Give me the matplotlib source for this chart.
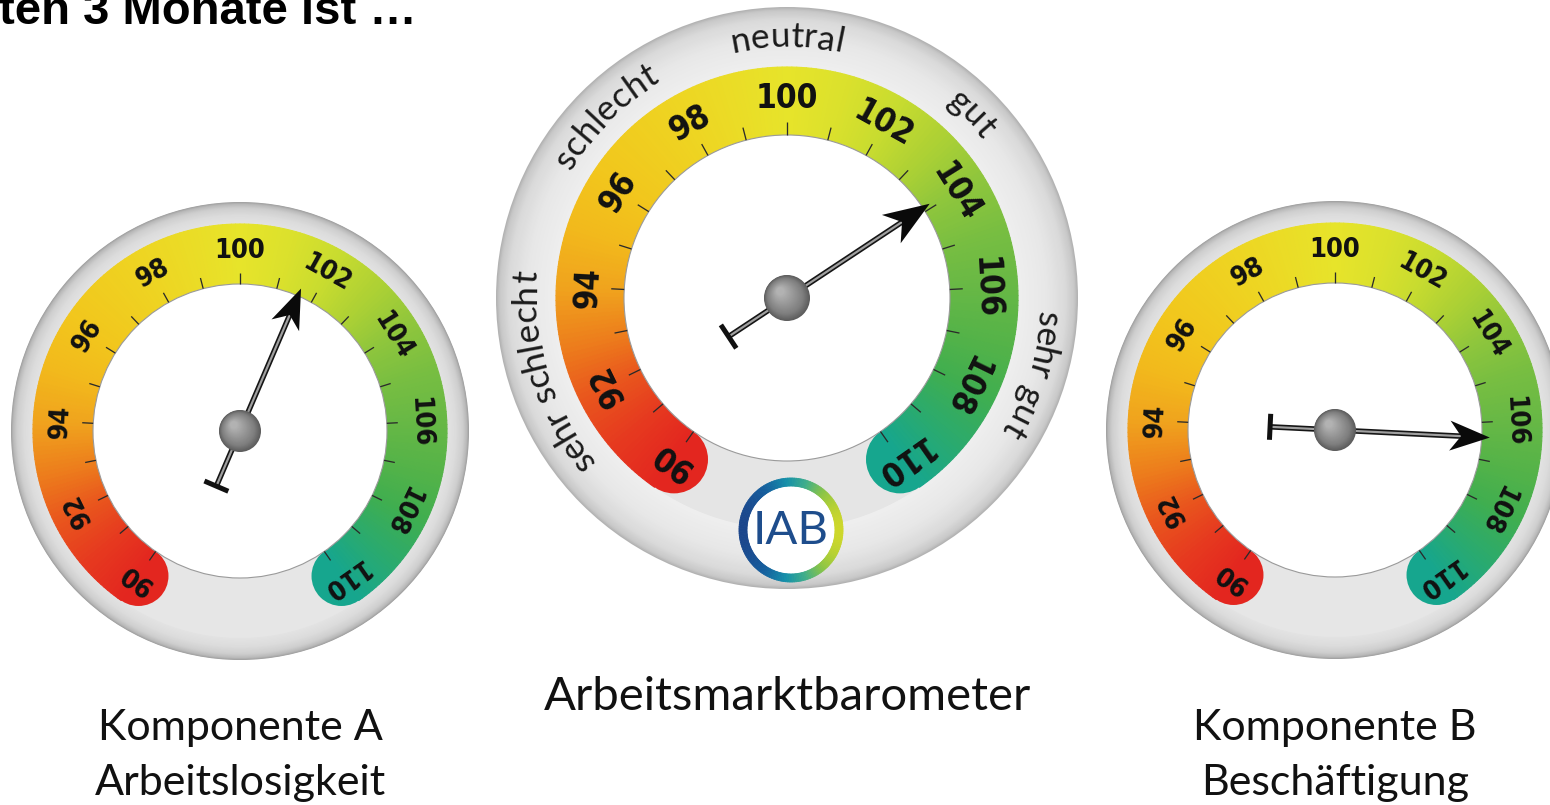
import numpy as np
import matplotlib
matplotlib.use("Agg")
import matplotlib.pyplot as plt
from matplotlib.patches import Circle, Polygon
from matplotlib.collections import PolyCollection
from matplotlib.colors import to_rgb
from matplotlib.textpath import TextToPath
from matplotlib.font_manager import FontProperties

# ---------------- data ----------------
title_text = "ten 3 Monate ist …"
gauge_names = ["Komponente A\nArbeitslosigkeit", "Arbeitsmarktbarometer", "Komponente B\nBeschäftigung"]
gauge_values = [101.6, 103.9, 106.4]
scale_min, scale_max = 90, 110
tick_values = list(range(90, 111))
label_values = list(range(90, 111, 2))
category_labels = ["sehr schlecht", "schlecht", "neutral", "gut", "sehr gut"]
category_values = [92.6, 96.9, 100.0, 103.1, 107.4]
logo_text = "IAB"

# ---------------- style / layout ----------------
W, H = 1550, 805
PX = 72 / 100.0          # points per pixel
DEG_PER_UNIT = 14.5

band_stops = [(90, '#e3261f'), (91, '#e6391f'), (92, '#e9561d'), (93, '#ed801c'), (94, '#f0a31d'),
              (95, '#f2b81c'), (96, '#f2c51c'), (98, '#eed522'), (100, '#e7e42a'), (101, '#dce12c'),
              (102, '#c9dc2f'), (103, '#aed134'), (104, '#8fc63c'), (105, '#78be41'), (106, '#67b845'),
              (107, '#55b348'), (108, '#40ae4f'), (109, '#2baa6d'), (110, '#16a68e')]

layout = [
    dict(cx=240, cy=374, Rg=229, Ro=207, Ri=147, tick=11, lr=180, lfs=19.5, hub=21, tail=60, hl=40, hw=15, tb=13,
         ring=[(0, '#a0a0a0'), (2, '#b9b9b9'), (6, '#cfcfcf'), (13, '#dcdcdc'), (22, '#e3e3e3')], gap='#e6e6e6'),
    dict(cx=787, cy=507, Rg=291, Ro=231, Ri=163, tick=13, lr=199, lfs=24, hub=23, tail=70, hl=46, hw=17, tb=14,
         ring=[(0, '#b3b3b3'), (3, '#c8c8c8'), (12, '#dadada'), (30, '#e7e7e7'), (60, '#efefef')], gap='#e5e5e5'),
    dict(cx=1335, cy=375, Rg=229, Ro=207, Ri=147, tick=11, lr=180, lfs=19.5, hub=21, tail=65, hl=40, hw=15, tb=13,
         ring=[(0, '#a0a0a0'), (2, '#b9b9b9'), (6, '#cfcfcf'), (13, '#dcdcdc'), (22, '#e3e3e3')], gap='#e6e6e6'),
]
name_baselines = [[65, 10], [95], [65, 10]]

logo_xy = (791, 275)
logo_R, logo_w = 52, 8
logo_stops = [(-1.0, '#1b468c'), (-0.55, '#155f9e'), (-0.1, '#1590aa'), (0.3, '#3fae8a'),
              (0.65, '#8cc545'), (1.0, '#cdd72a')]


def interp_color(stops, x):
    xs = [s[0] for s in stops]
    cs = np.array([to_rgb(s[1]) for s in stops])
    return tuple(float(np.interp(x, xs, cs[:, k])) for k in range(3))


def val2ang(v):
    return np.deg2rad(90 - (v - 100) * DEG_PER_UNIT)


fig = plt.figure(figsize=(W / 100, H / 100), dpi=100)
ax = fig.add_axes([0, 0, 1, 1])
ax.set_xlim(0, W)
ax.set_ylim(0, H)
ax.axis('off')

ttp = TextToPath()


def text_w(s, fp):
    w, h, d = ttp.get_text_width_height_descent(s, fp, ismath=False)
    return w / PX


def curved_text(cx, cy, R, theta_c, s, fp, color='#1a1a1a', z=6):
    ref = text_w('x', fp)
    total = text_w(s + 'x', fp) - ref
    lefts = [0.0] + [text_w(s[:i] + 'x', fp) - ref for i in range(1, len(s) + 1)]
    for i, ch in enumerate(s):
        if ch == ' ':
            continue
        mid = 0.5 * (lefts[i] + lefts[i + 1])
        th = theta_c + (total / 2 - mid) / R
        ax.text(cx + R * np.cos(th), cy + R * np.sin(th), ch, fontproperties=fp, color=color,
                rotation=np.rad2deg(th) - 90, rotation_mode='anchor', ha='center', va='baseline', zorder=z)


num_fp_base = dict(family='DejaVu Sans', weight='bold', stretch='condensed')


def draw_gauge(g, value, name_lines, baselines, middle=False):
    cx, cy = g['cx'], g['cy']
    Rg, Ro, Ri = g['Rg'], g['Ro'], g['Ri']
    # gray ring gradient
    n = 50
    for i in range(n):
        r = Rg - (Rg - Ro) * i / n
        ax.add_patch(Circle((cx, cy), r, fc=interp_color(g['ring'], Rg - r), ec='none', zorder=1))
    ax.add_patch(Circle((cx, cy), Ro, fc=g['gap'], ec='none', zorder=1.5))
    # coloured band
    vs = np.linspace(scale_min, scale_max, 241)
    polys, cols = [], []
    for a, b in zip(vs[:-1], vs[1:]):
        ts = np.linspace(val2ang(a), val2ang(b), 3)
        outer = np.c_[cx + Ro * np.cos(ts), cy + Ro * np.sin(ts)]
        inner = np.c_[cx + Ri * np.cos(ts[::-1]), cy + Ri * np.sin(ts[::-1])]
        polys.append(np.vstack([outer, inner]))
        cols.append(interp_color(band_stops, 0.5 * (a + b)))
    ax.add_collection(PolyCollection(polys, facecolors=cols, edgecolors=cols, linewidths=0.8, zorder=3))
    rm, hwid = 0.5 * (Ro + Ri), 0.5 * (Ro - Ri)
    for v in (scale_min, scale_max):
        t = val2ang(v)
        ax.add_patch(Circle((cx + rm * np.cos(t), cy + rm * np.sin(t)), hwid,
                            fc=interp_color(band_stops, v), ec='none', zorder=2.9))
    # white dial
    ax.add_patch(Circle((cx, cy), Ri, fc='white', ec='#9a9a9a', lw=0.8, zorder=4))
    # ticks
    for v in tick_values:
        t = val2ang(v)
        ax.plot([cx + Ri * np.cos(t), cx + (Ri + g['tick']) * np.cos(t)],
                [cy + Ri * np.sin(t), cy + (Ri + g['tick']) * np.sin(t)],
                color='#2a2a2a', lw=1.3 * PX, zorder=5, solid_capstyle='butt')
    # labels
    fpl = FontProperties(size=g['lfs'], **num_fp_base)
    for v in label_values:
        t = val2ang(v)
        ax.text(cx + g['lr'] * np.cos(t), cy + g['lr'] * np.sin(t), str(v),
                rotation=np.rad2deg(t) - 90, rotation_mode='anchor', ha='center', va='center',
                fontproperties=fpl, color='#111111', zorder=6)
    # pointer
    th = val2ang(value)
    u = np.array([np.cos(th), np.sin(th)])
    nv = np.array([-np.sin(th), np.cos(th)])
    c = np.array([cx, cy], dtype=float)
    tip = c + u * (Ri + 8)
    back = tip - u * g['hl']
    notch = tip - u * g['hl'] * 0.72
    tail = c - u * g['tail']
    ax.plot([tail[0], notch[0]], [tail[1], notch[1]], color='#151515', lw=5.5 * PX,
            solid_capstyle='butt', zorder=7)
    ax.plot([tail[0], notch[0]], [tail[1], notch[1]], color='#a0a0a0', lw=2.2 * PX,
            solid_capstyle='butt', zorder=7.1)
    tb = [tail + nv * g['tb'], tail - nv * g['tb']]
    ax.plot([tb[0][0], tb[1][0]], [tb[0][1], tb[1][1]], color='#111111', lw=5 * PX,
            solid_capstyle='butt', zorder=7.2)
    ax.add_patch(Polygon([tip, back + nv * g['hw'], notch, back - nv * g['hw']], closed=True,
                         fc='#0a0a0a', ec='none', zorder=7.3))
    # hub
    m = 30
    for i in range(m):
        f = i / m
        r = g['hub'] * (1 - 0.85 * f)
        off = np.array([-0.3, 0.3]) * g['hub'] * f
        col = interp_color([(0, '#5c5c5c'), (0.25, '#7e7e7e'), (1, '#b4b4b4')], f)
        ax.add_patch(Circle(tuple(c + off), r, fc=col, ec='none', zorder=8))
    # names
    fpn = FontProperties(family='Lato', size=34 if middle else 31)
    for line, yb in zip(name_lines, baselines):
        ax.text(cx, yb, line, fontproperties=fpn, ha='center', va='baseline', color='#111111', zorder=9)


for k, (g, val, name, bl) in enumerate(zip(layout, gauge_values, gauge_names, name_baselines)):
    draw_gauge(g, val, name.split('\n'), bl, middle=(k == 1))

# category labels on the middle ring
gm = layout[1]
fpc = FontProperties(family='Lato', size=25.5)
for lab, v in zip(category_labels, category_values):
    curved_text(gm['cx'], gm['cy'], 251, val2ang(v), lab, fpc)

# IAB logo
lx, ly = logo_xy
angs = np.linspace(0, 2 * np.pi, 181)
polys, cols = [], []
for a, b in zip(angs[:-1], angs[1:]):
    ts = np.linspace(a, b, 3)
    outer = np.c_[lx + logo_R * np.cos(ts), ly + logo_R * np.sin(ts)]
    inner = np.c_[lx + (logo_R - logo_w) * np.cos(ts[::-1]), ly + (logo_R - logo_w) * np.sin(ts[::-1])]
    polys.append(np.vstack([outer, inner]))
    cols.append(interp_color(logo_stops, np.cos(0.5 * (a + b))))
ax.add_patch(Circle((lx, ly), logo_R - logo_w, fc='white', ec='none', zorder=9))
ax.add_collection(PolyCollection(polys, facecolors=cols, edgecolors=cols, linewidths=0.6, zorder=9.5))
ax.text(lx, ly - 1, logo_text, family='Lato', fontsize=34, color='#1e4d8c', ha='center', va='center', zorder=10)

# title (cropped at the top like the reference)
ax.text(417, H - 24, title_text, family='Liberation Sans', fontweight='bold', fontsize=34,
        ha='right', va='baseline', color='black', zorder=10)

fig.savefig('out.png', dpi=100)
